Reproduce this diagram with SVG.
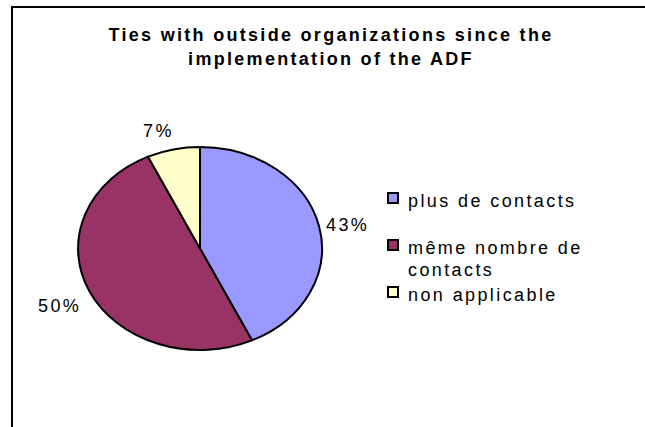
<svg xmlns="http://www.w3.org/2000/svg" width="645" height="427" viewBox="0 0 645 427">
<style>
.t{font-family:"Liberation Sans",Arial,sans-serif;fill:#000}
.title{font-size:18px;font-weight:bold;letter-spacing:2.3px;text-anchor:middle}
.lbl{font-size:18px;letter-spacing:2.4px}
.sl{stroke:#000;stroke-width:2;stroke-linejoin:round}
.key{stroke:#000;stroke-width:2}
</style>
<rect width="645" height="427" fill="#fff"/>
<path d="M12,430 V7 H650" fill="none" stroke="#000" stroke-width="2"/>
<g id="title">
<text class="t title" x="331" y="41">Ties with outside organizations since the</text>
<text class="t title" x="331" y="65">implementation of the ADF</text>
</g>
<g id="pie">
<path id="slice-plus" class="sl" fill="#9999FF" d="M200,248.5 L200,147 A122,101.5 0 0 1 251.95,340.34 Z"/>
<path id="slice-meme" class="sl" fill="#993366" d="M200,248.5 L251.95,340.34 A122,101.5 0 0 1 148.05,156.66 Z"/>
<path id="slice-na" class="sl" fill="#FFFFCC" d="M200,248.5 L148.05,156.66 A122,101.5 0 0 1 200,147 Z"/>
</g>
<g id="labels">
<text class="t lbl" x="143" y="137">7%</text>
<text class="t lbl" x="326" y="231">43%</text>
<text class="t lbl" x="38" y="312">50%</text>
</g>
<g id="legend">
<rect class="key" x="388" y="193" width="10" height="10" fill="#9999FF"/>
<text class="t lbl" x="408" y="207">plus de contacts</text>
<rect class="key" x="388" y="240" width="10" height="10" fill="#993366"/>
<text class="t lbl" x="408" y="254">même nombre de</text>
<text class="t lbl" x="408" y="276">contacts</text>
<rect class="key" x="388" y="287" width="10" height="10" fill="#FFFFCC"/>
<text class="t lbl" x="408" y="301">non applicable</text>
</g>
</svg>
